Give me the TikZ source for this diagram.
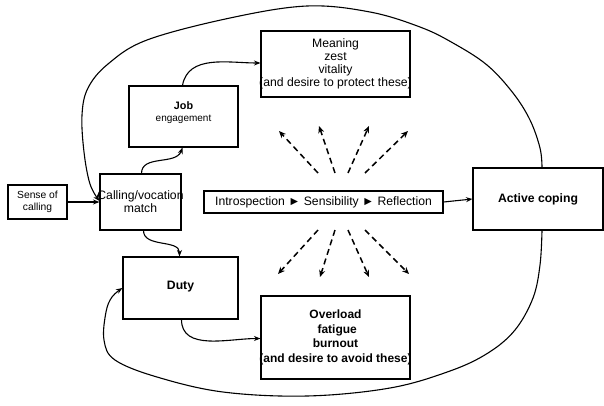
\documentclass[tikz,border=0pt]{standalone}
\usepackage{fontspec}
\setmainfont{Liberation Sans}
\usetikzlibrary{arrows.meta}
\newcommand{\ov}[1]{\makebox[0pt][c]{#1}}
\begin{document}
\begin{tikzpicture}[x=1pt,y=-1pt,
  box/.style={draw,line width=1.1pt,rectangle,inner sep=0pt,align=center,font=\fontsize{12.2}{13}\selectfont},
  small/.style={font=\fontsize{10.3}{12}\selectfont},
  arr/.style={line width=1.1pt,-{Stealth[length=6.5pt,width=5pt]}},
  darr/.style={line width=1.5pt,dash pattern=on 6pt off 4pt,-{Stealth[length=7pt,width=6pt]}}]
\useasboundingbox (0,0) rectangle (604,405);
% boxes
\node[box,small,minimum width=59pt,minimum height=34pt] (sense) at (37.5,202) {Sense of\\calling};
\node[box,minimum width=81pt,minimum height=56pt] (calling) at (140.5,202) {\ov{Calling/vocation}\\match};
\node[box,minimum width=109pt,minimum height=61pt] (job) at (183.5,116.5) {\raisebox{0pt}[0pt][0pt]{\fontsize{10.8}{12}\selectfont\bfseries Job}\\[-1pt]{\fontsize{10}{11}\selectfont engagement}};
\node[box,minimum width=149pt,minimum height=66pt] (meaning) at (335.5,64) {Meaning\\zest\\vitality\\\ov{(and desire to protect these)}};
\node[box,font=\fontsize{12.2}{13}\selectfont\bfseries,minimum width=115pt,minimum height=62pt] (duty) at (180.5,288) {\raisebox{5pt}{Duty}};
\node[box,font=\fontsize{12}{14.5}\selectfont\bfseries,minimum width=149pt,minimum height=83pt] (over) at (335.5,337.5) {Overload\\\ fatigue\\burnout\\\ov{(and desire to avoid these)}};
\node[box,minimum width=239pt,minimum height=22pt] (intro) at (323.5,202) {Introspection ► Sensibility ► Reflection};
\node[box,font=\fontsize{12.2}{13}\selectfont\bfseries,minimum width=130pt,minimum height=62pt] (ac) at (538,199) {\raisebox{-3pt}{Active coping}};
% straight arrows
\draw[arr] (sense.east) -- (calling.west);
\draw[arr] (intro.east) -- (ac.west);
% small curved arrows
\draw[arr] ([xshift=1pt]calling.north) to[out=90,in=-110] ([xshift=-1pt]job.south);
\draw[arr] ([xshift=3pt]calling.south) to[out=-90,in=90] ([xshift=-1pt]duty.north);
\draw[arr] ([xshift=-1pt]job.north) to[out=80,in=180] ([yshift=1pt]meaning.west);
\draw[arr] ([xshift=1pt]duty.south) to[out=-90,in=180] ([yshift=-1pt]over.west);
% big loop curves
\coordinate (acT) at ([xshift=4pt]ac.north);
\coordinate (acB) at ([xshift=4pt]ac.south);
\draw[arr] plot[smooth,tension=0.6] coordinates {(acT) (540,148) (530,120) (513,93) (487,65) (453,43) (420,27) (370,12) (307,6) (230,18) (147,40) (108,64) (88,88) (82,115) (84,152) (90,184) ([yshift=1pt]calling.west)};
\draw[arr] plot[smooth,tension=0.6] coordinates {(acB) (540,265) (533,298) (515,330) (488,353) (450,371) (390,388) (307,396) (223,392) (157,377) (115,360) (104,340) (106,312) (112,297) (duty.west)};
% dashed arrows
\foreach \sx/\ex/\ey [count=\i] in {318/279/131,335/319/126,348/369/126,365/408/131}{
  \coordinate (ts\i) at (\sx,173);
  \coordinate (te\i) at (\ex,\ey);
  \draw[darr] (ts\i) -- (te\i);
}
\foreach \sx/\ex/\ey [count=\i] in {318/278/274,335/320/277,348/369/277,365/409/274}{
  \coordinate (bs\i) at (\sx,230);
  \coordinate (be\i) at (\ex,\ey);
  \draw[darr] (bs\i) -- (be\i);
}
\end{tikzpicture}
\end{document}
